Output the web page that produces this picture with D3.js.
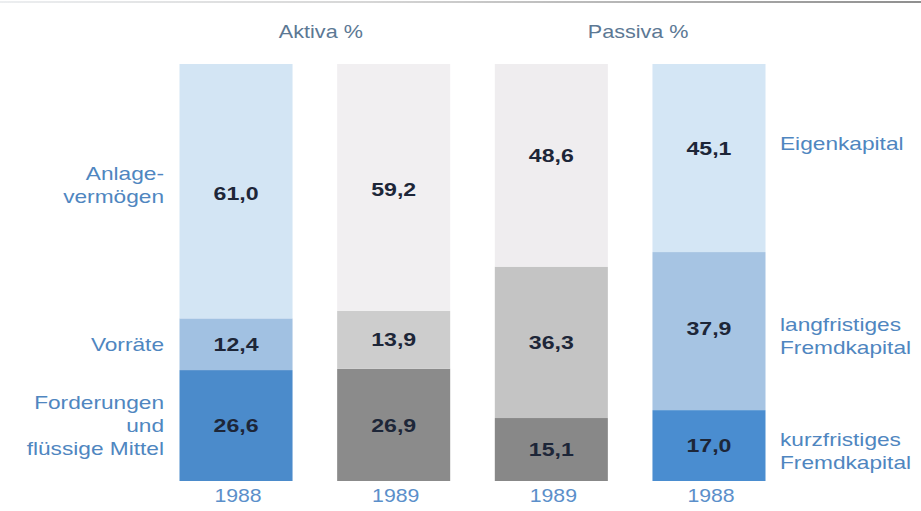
<!DOCTYPE html>
<html>
<head>
<meta charset="utf-8">
<script src="https://cdn.jsdelivr.net/npm/d3@7"></script>
<style>
  html, body { margin: 0; padding: 0; background: #ffffff; }
  svg { display: block; }
</style>
</head>
<body>
<svg id="chart" width="921" height="511"></svg>
<script>
// ---- data ----
const barIds = ["Aktiva 1988", "Aktiva 1989", "Passiva 1989", "Passiva 1988"];
const years = ["1988", "1989", "1989", "1988"];
const groupTitles = ["Aktiva %", "Passiva %"];
const bottomValues = [26.6, 26.9, 15.1, 17.0];
const middleValues = [12.4, 13.9, 36.3, 37.9];
const topValues = [61.0, 59.2, 48.6, 45.1];
const leftLabels = [["Forderungen", "und", "flüssige Mittel"], ["Vorräte"], ["Anlage-", "vermögen"]];
const rightLabels = [["kurzfristiges", "Fremdkapital"], ["langfristiges", "Fremdkapital"], ["Eigenkapital"]];

// ---- styles ----
const palettes = [
  ["#4b8bcb", "#a1c1e2", "#d3e5f4"],
  ["#8b8b8b", "#cdcdcd", "#f1eff1"],
  ["#888888", "#c4c4c4", "#efedef"],
  ["#4a8dd0", "#a6c4e3", "#d4e6f5"]
];
const labelBlue = "#4f86c0";
const valueColor = "#1d2638";
const font = "'Liberation Sans', Arial, Helvetica, sans-serif";
const stretch = 1.26;

const svg = d3.select("#chart");
const W = 921;

// top rule
const defs = svg.append("defs");
const grad = defs.append("linearGradient").attr("id", "rule").attr("x1", "0%").attr("x2", "100%");
grad.append("stop").attr("offset", "0%").attr("stop-color", "#eceef0");
grad.append("stop").attr("offset", "40%").attr("stop-color", "#d6d6d6");
grad.append("stop").attr("offset", "100%").attr("stop-color", "#8f8f8f");
svg.append("rect").attr("x", 0).attr("y", 1).attr("width", W).attr("height", 2).attr("fill", "url(#rule)");

// scales
const x = d3.scaleBand().domain(barIds).range([179.5, 765.5]).paddingInner(0.283).paddingOuter(0);
const y = d3.scaleLinear().domain([0, 100]).range([481, 64]);

const locale = d3.formatLocale({ decimal: ",", thousands: ".", grouping: [3], currency: ["", " €"] });
const fmt = locale.format(".1f");

// stretched text helper (the printed lettering is wide)
function stretchedText(parent, px, py, lines, o) {
  const g = parent.append("g").attr("transform", `translate(${px},${py}) scale(${o.sx || stretch},1)`);
  const t = g.append("text")
    .attr("text-anchor", o.anchor || "middle")
    .attr("font-family", font)
    .attr("font-size", o.size)
    .attr("font-weight", o.weight || "normal")
    .attr("fill", o.fill);
  const lh = o.lh || 0;
  lines.forEach((line, j) => {
    t.append("tspan")
      .attr("x", 0)
      .attr("y", (j - (lines.length - 1) / 2) * lh)
      .attr("dominant-baseline", "central")
      .text(line);
  });
  return g;
}

// build stacked segments
const segs = [];
barIds.forEach((id, i) => {
  const vals = [bottomValues[i], middleValues[i], topValues[i]];
  let acc = 0;
  vals.forEach((v, k) => {
    segs.push({ id, i, k, v, y0: acc, y1: acc + v });
    acc += v;
  });
});

svg.append("g").selectAll("rect").data(segs).join("rect")
  .attr("x", d => x(d.id))
  .attr("width", x.bandwidth())
  .attr("y", d => y(d.y1))
  .attr("height", d => y(d.y0) - y(d.y1))
  .attr("fill", d => palettes[d.i][d.k]);

const valG = svg.append("g");
segs.forEach(d => {
  const off = d.k === 2 ? (d.i >= 2 ? -10 : 2) : (d.k === 1 && d.i === 3 ? -3 : 0);
  stretchedText(valG, x(d.id) + x.bandwidth() / 2, y((d.y0 + d.y1) / 2) + off, [fmt(d.v)],
    { size: 18.5, weight: "bold", fill: valueColor, sx: 1.25 });
});

// year labels
const yearG = svg.append("g");
barIds.forEach((id, i) => {
  stretchedText(yearG, x(id) + x.bandwidth() / 2 + 2, 496, [years[i]],
    { size: 18, fill: "#5b8fca", sx: 1.18 });
});

// group titles
const titleX = [
  (x(barIds[0]) + x(barIds[1]) + x.bandwidth()) / 2 + 6,
  (x(barIds[2]) + x(barIds[3]) + x.bandwidth()) / 2 + 8
];
const titleG = svg.append("g");
groupTitles.forEach((tt, i) => {
  stretchedText(titleG, titleX[i], 32, [tt], { size: 18, fill: "#5c7894", sx: 1.2 });
});

// side labels
function sideLabels(lines, barIndex, xPos, anchor, offsets) {
  const vals = [bottomValues[barIndex], middleValues[barIndex], topValues[barIndex]];
  let acc = 0;
  const g = svg.append("g");
  lines.forEach((ls, k) => {
    const mid = acc + vals[k] / 2;
    acc += vals[k];
    stretchedText(g, xPos, y(mid) + offsets[k], ls,
      { size: 18, fill: labelBlue, anchor, lh: 23 });
  });
}
sideLabels(leftLabels, 0, 164, "end", [0, 0, -6]);
sideLabels(rightLabels, 3, 780, "start", [5, 5, -15]);
</script>
</body>
</html>
